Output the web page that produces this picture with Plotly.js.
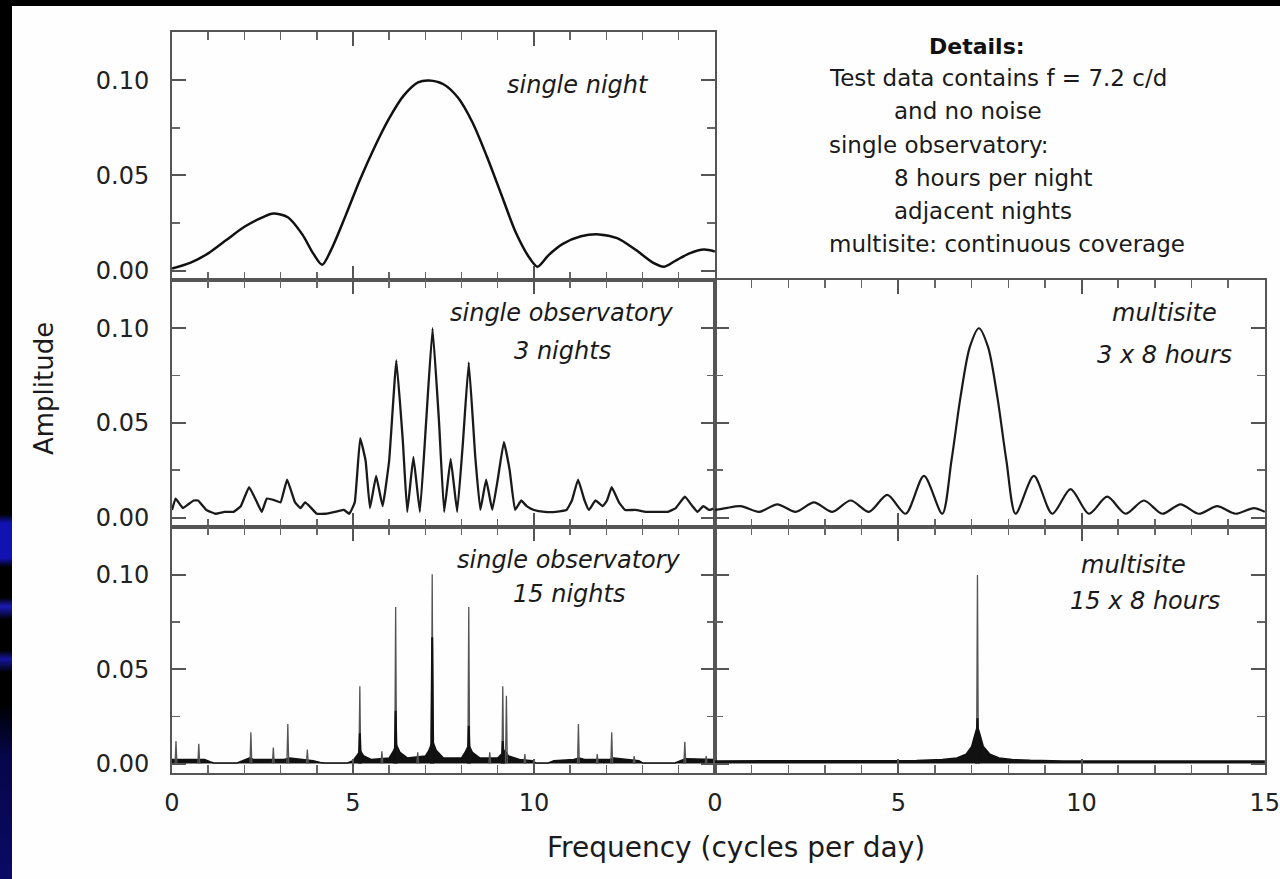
<!DOCTYPE html>
<html><head><meta charset="utf-8">
<script src="https://cdn.plot.ly/plotly-3.0.1.min.js"></script>
<style>
html,body{margin:0;padding:0;background:#000;width:1280px;height:879px;overflow:hidden;}
#strip{position:absolute;left:0;top:0;width:12px;height:879px;
background:linear-gradient(to bottom,#000 0%,#000 58.5%,#1212b0 59.5%,#1212b0 63.5%,#000 64.5%,#000 68%,#1a1ab8 69%,#000 70.5%,#000 74%,#1414a0 75%,#000 76.5%,#000 80%,#06064a 86%,#0a0a66 100%);}
#chart{position:absolute;left:12px;top:6px;width:1268px;height:873px;background:#fefefe;}
</style></head><body>
<div id="strip"></div><div id="chart"></div>
<script>
// ---------- data ----------
const xTickVals = [0, 5, 10, 15];
const xTickLeft = ['0', '5', '10', ''];
const xTickRight = ['0', '5', '10', '15'];
const yTickVals = [0, 0.05, 0.10];
const yTickText = ['0.00', '0.05', '0.10'];

// single night
const freqNight = [0,0.5,1.0,1.5,2.0,2.5,2.8,3.2,3.6,3.9,4.15,4.4,4.8,5.2,5.6,6.0,6.4,6.8,7.1,7.5,7.9,8.3,8.7,9.1,9.5,9.9,10.1,10.4,10.8,11.3,11.8,12.3,12.8,13.3,13.6,13.9,14.3,14.7,15];
const ampNight  = [0.001,0.004,0.009,0.016,0.023,0.028,0.030,0.028,0.019,0.009,0.003,0.011,0.029,0.048,0.065,0.080,0.092,0.099,0.100,0.098,0.091,0.078,0.060,0.040,0.020,0.006,0.002,0.008,0.014,0.018,0.019,0.017,0.011,0.004,0.002,0.005,0.009,0.011,0.010];

// single observatory, 3 nights
const freq3n = [0.00,0.10,0.30,0.45,0.60,0.72,0.95,1.20,1.45,1.70,1.90,2.13,2.35,2.48,2.62,2.85,3.00,3.18,3.40,3.55,3.68,3.85,4.00,4.25,4.50,4.75,4.90,5.05,5.20,5.35,5.47,5.64,5.82,6.00,6.20,6.38,6.50,6.67,6.85,7.02,7.20,7.38,7.52,7.70,7.88,8.04,8.20,8.38,8.52,8.68,8.85,9.00,9.17,9.33,9.48,9.65,9.80,10.00,10.30,10.60,10.90,11.05,11.22,11.40,11.52,11.70,11.90,12.02,12.15,12.35,12.52,12.80,13.10,13.40,13.70,13.92,14.17,14.38,14.52,14.68,14.85,15.00];
const amp3n  = [0.004,0.010,0.005,0.007,0.009,0.009,0.004,0.002,0.003,0.003,0.006,0.016,0.008,0.003,0.010,0.009,0.008,0.020,0.008,0.005,0.008,0.005,0.002,0.002,0.003,0.004,0.002,0.008,0.042,0.030,0.005,0.022,0.006,0.030,0.083,0.040,0.003,0.032,0.003,0.050,0.100,0.050,0.003,0.031,0.003,0.040,0.082,0.032,0.004,0.020,0.004,0.020,0.040,0.025,0.004,0.009,0.006,0.004,0.003,0.003,0.004,0.009,0.020,0.009,0.004,0.009,0.006,0.009,0.016,0.008,0.004,0.004,0.003,0.003,0.003,0.005,0.011,0.006,0.003,0.006,0.004,0.005];

// multisite, 3 x 8 hours
const freqM3 = [0.0,0.3,0.7,1.2,1.7,2.2,2.7,3.2,3.7,4.2,4.7,5.2,5.7,6.2,6.45,6.7,6.95,7.2,7.45,7.7,7.95,8.2,8.7,9.2,9.7,10.2,10.7,11.2,11.7,12.2,12.7,13.2,13.7,14.2,14.7,15.0];
const ampM3  = [0.004,0.005,0.006,0.003,0.007,0.003,0.008,0.003,0.009,0.003,0.012,0.002,0.022,0.002,0.030,0.064,0.090,0.100,0.090,0.064,0.030,0.002,0.022,0.002,0.015,0.002,0.011,0.002,0.009,0.002,0.007,0.002,0.006,0.002,0.005,0.003];

// single observatory, 15 nights: alias spikes, dark spike cores, sidelobe floor
const spikeFreq15n = [0.11,0.74,2.18,2.80,3.20,3.74,5.19,5.80,6.18,6.79,7.19,8.20,8.78,9.14,9.24,9.75,11.23,11.75,12.15,12.77,14.17,14.76];
const spikeAmp15n  = [0.012,0.0105,0.0166,0.0085,0.021,0.0075,0.041,0.0065,0.083,0.006,0.1005,0.083,0.006,0.041,0.036,0.005,0.021,0.005,0.0166,0.004,0.0115,0.004];
const coreFreq15n = [5.19,6.18,7.19,8.20,9.14];
const coreAmp15n  = [0.016,0.028,0.067,0.020,0.012];
const floorFreq15n = [0.0,0.9,1.05,1.15,1.8,1.95,2.15,2.25,3.1,3.25,3.9,4.1,4.2,4.85,5.0,5.1,5.2,5.3,5.5,6.0,6.1,6.2,6.3,6.5,7.0,7.1,7.2,7.3,7.5,8.0,8.1,8.2,8.3,8.5,9.0,9.1,9.2,9.3,9.6,9.95,10.05,10.4,10.55,11.1,11.25,11.4,12.1,12.2,12.9,13.0,13.9,14.05,14.2,15.0];
const floorAmp15n  = [0.0022,0.0022,0.001,0.0003,0.0003,0.0015,0.003,0.0022,0.0022,0.003,0.0015,0.0006,0.0003,0.0003,0.0015,0.004,0.007,0.004,0.0022,0.003,0.006,0.010,0.006,0.003,0.004,0.007,0.012,0.007,0.003,0.003,0.006,0.010,0.006,0.003,0.003,0.005,0.007,0.004,0.0022,0.0015,0.0003,0.0003,0.0015,0.0022,0.003,0.0022,0.0022,0.003,0.0015,0.0003,0.0003,0.0015,0.0025,0.0022];

// multisite, 15 x 8 hours
const spikeFreqM15 = [7.16];
const spikeAmpM15  = [0.100];
const coreFreqM15 = [7.16];
const coreAmpM15  = [0.024];
const floorFreqM15 = [0.0,4.0,5.5,6.2,6.6,6.85,7.0,7.1,7.16,7.22,7.32,7.5,7.75,8.1,8.6,9.5,15.0];
const floorAmpM15  = [0.0014,0.0014,0.0016,0.0022,0.003,0.005,0.009,0.016,0.020,0.016,0.009,0.005,0.003,0.0022,0.0017,0.0014,0.0014];

// ---------- helpers ----------
function spikes(freqs, amps, half) {
  const x = [], y = [];
  freqs.forEach((f, i) => { x.push(f - half, f, f + half, null); y.push(0, amps[i], 0, null); });
  return {x, y};
}
const FONT = 'DejaVu Sans, Liberation Sans, sans-serif';
const INK = '#111';

function xAxis(domain, anchor, text, show) {
  return {domain, anchor, range: [0, 15.004], showgrid: false, zeroline: false,
    showline: true, mirror: 'ticks', linecolor: '#555', linewidth: 2,
    ticks: 'inside', ticklen: 14, tickwidth: 2, tickcolor: '#555',
    tickmode: 'array', tickvals: xTickVals, ticktext: text, showticklabels: show,
    ticklabelstandoff: 7, ticklabeloverflow: 'allow',
    tickfont: {family: FONT, size: 24, color: '#222'},
    minor: {dtick: 1, tick0: 0, ticks: 'inside', ticklen: 8, tickwidth: 1.5, tickcolor: '#666'},
    fixedrange: true};
}
function yAxis(domain, anchor, show) {
  return {domain, anchor, range: [-0.005, 0.1255], showgrid: false, zeroline: false,
    showline: true, mirror: 'ticks', linecolor: '#555', linewidth: 2,
    ticks: 'inside', ticklen: 14, tickwidth: 2, tickcolor: '#555',
    tickmode: 'array', tickvals: yTickVals, ticktext: yTickText, showticklabels: show,
    ticklabelstandoff: 16,
    tickfont: {family: FONT, size: 24, color: '#222'},
    minor: {dtick: 0.025, tick0: 0, ticks: 'inside', ticklen: 8, tickwidth: 1.5, tickcolor: '#666'},
    fixedrange: true};
}

const dL = 543 / 1093;
const r1 = [(773 - 280) / 741, 1];
const r2 = [(773 - 527) / 741, (773 - 280) / 741];
const r3 = [0, (773 - 527) / 741];

const s15 = spikes(spikeFreq15n, spikeAmp15n, 0.025);
const c15 = spikes(coreFreq15n, coreAmp15n, 0.03);
const sM15 = spikes(spikeFreqM15, spikeAmpM15, 0.025);
const cM15 = spikes(coreFreqM15, coreAmpM15, 0.035);

const traces = [
  {x: freqNight, y: ampNight, xaxis: 'x', yaxis: 'y', mode: 'lines', line: {color: INK, width: 2.5, shape: 'spline', smoothing: 0.8}},
  {x: freq3n, y: amp3n, xaxis: 'x2', yaxis: 'y2', mode: 'lines', line: {color: '#1a1a1a', width: 2.3, shape: 'spline', smoothing: 0.3}},
  {x: floorFreq15n, y: floorAmp15n, xaxis: 'x3', yaxis: 'y3', mode: 'lines', fill: 'tozeroy', fillcolor: INK, line: {color: INK, width: 1.5}},
  {x: s15.x, y: s15.y, xaxis: 'x3', yaxis: 'y3', mode: 'lines', connectgaps: false, line: {color: '#555', width: 1.3}},
  {x: c15.x, y: c15.y, xaxis: 'x3', yaxis: 'y3', mode: 'lines', connectgaps: false, line: {color: INK, width: 2}},
  {x: freqM3, y: ampM3, xaxis: 'x4', yaxis: 'y4', mode: 'lines', line: {color: '#1a1a1a', width: 2.2, shape: 'spline', smoothing: 0.8}},
  {x: floorFreqM15, y: floorAmpM15, xaxis: 'x5', yaxis: 'y5', mode: 'lines', fill: 'tozeroy', fillcolor: INK, line: {color: INK, width: 1.5}},
  {x: sM15.x, y: sM15.y, xaxis: 'x5', yaxis: 'y5', mode: 'lines', connectgaps: false, line: {color: '#555', width: 1.3}},
  {x: cM15.x, y: cM15.y, xaxis: 'x5', yaxis: 'y5', mode: 'lines', connectgaps: false, line: {color: INK, width: 2.2}}
];

function px(v) { return (v - 172) / 1093; }
function py(v) { return (773 - v) / 741; }
function note(text, x, y, opts) {
  return Object.assign({text, x: px(x), y: py(y), xref: 'paper', yref: 'paper', showarrow: false,
    xanchor: 'center', yanchor: 'middle', font: {family: FONT, size: 24, color: '#1a1a1a'}}, opts || {});
}
const detailFont = {family: FONT, size: 23, color: '#1a1a1a'};
const annotations = [
  note('<i>single night</i>', 578, 85),
  note('<i>single observatory</i>', 562, 313),
  note('<i>3 nights</i>', 562, 351),
  note('<i>single observatory</i>', 569, 560),
  note('<i>15 nights</i>', 569, 594),
  note('<i>multisite</i>', 1164, 313),
  note('<i>3 x 8 hours</i>', 1164, 355),
  note('<i>multisite</i>', 1133, 565),
  note('<i>15 x 8 hours</i>', 1145, 601),
  note('<b>Details:</b>', 977, 47, {font: {family: FONT, size: 22, color: '#111'}}),
  note('Test data contains f = 7.2 c/d', 827, 78, {xanchor: 'left', font: detailFont}),
  note('and no noise', 892, 111, {xanchor: 'left', font: detailFont}),
  note('single observatory:', 827, 145, {xanchor: 'left', font: detailFont}),
  note('8 hours per night', 892, 178, {xanchor: 'left', font: detailFont}),
  note('adjacent nights', 892, 211, {xanchor: 'left', font: detailFont}),
  note('multisite: continuous coverage', 827, 244, {xanchor: 'left', font: detailFont}),
  note('Amplitude', 44, 389, {textangle: -90, font: {family: FONT, size: 26, color: '#1a1a1a'}}),
  note('Frequency (cycles per day)', 736, 847, {font: {family: FONT, size: 28, color: '#1a1a1a'}})
];

const layout = {
  width: 1268, height: 873,
  margin: {l: 160, r: 15, t: 26, b: 106, pad: 0},
  paper_bgcolor: '#fefefe', plot_bgcolor: 'rgba(0,0,0,0)',
  showlegend: false, hovermode: false,
  xaxis: xAxis([0, dL], 'y', xTickLeft, false),
  yaxis: yAxis(r1, 'x', true),
  xaxis2: xAxis([0, dL], 'y2', xTickLeft, false),
  yaxis2: yAxis(r2, 'x2', true),
  xaxis3: xAxis([0, dL], 'y3', xTickLeft, true),
  yaxis3: yAxis(r3, 'x3', true),
  xaxis4: xAxis([dL, 1], 'y4', xTickRight, false),
  yaxis4: yAxis(r2, 'x4', false),
  xaxis5: xAxis([dL, 1], 'y5', xTickRight, true),
  yaxis5: yAxis(r3, 'x5', false),
  annotations
};
Plotly.newPlot('chart', traces, layout, {staticPlot: true, displayModeBar: false});
</script></body></html>
